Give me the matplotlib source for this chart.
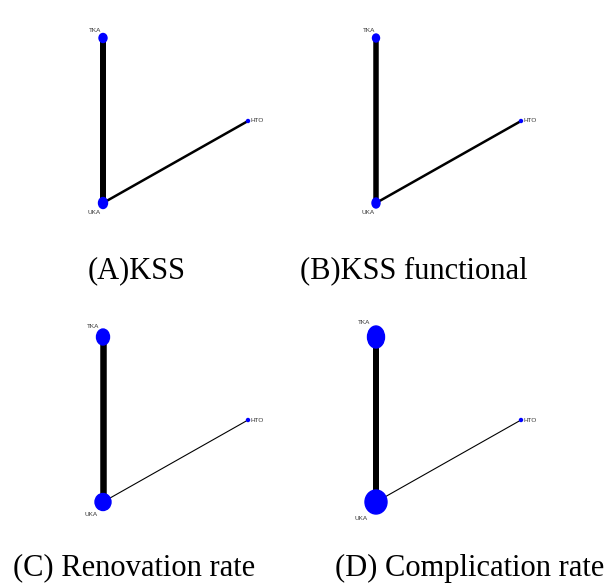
import matplotlib
matplotlib.use("Agg")
import matplotlib.pyplot as plt
from matplotlib.patches import Ellipse

# network: three treatments, two edges
nodes = ["TKA", "UKA", "HTO"]
edges = [("TKA", "UKA"), ("UKA", "HTO")]

panels = ["(A)KSS", "(B)KSS functional", "(C) Renovation rate", "(D) Complication rate"]

# node sizes (width, height) per panel, in pixels
node_w = {
    "(A)KSS": [8, 9, 3],
    "(B)KSS functional": [7, 8, 3],
    "(C) Renovation rate": [13, 16, 3],
    "(D) Complication rate": [17, 22, 3],
}
node_h = {
    "(A)KSS": [9, 11, 3],
    "(B)KSS functional": [8, 10, 3],
    "(C) Renovation rate": [16, 17, 3],
    "(D) Complication rate": [22, 24, 3],
}
# edge widths per panel (TKA-UKA, UKA-HTO), in pixels
edge_w = {
    "(A)KSS": [6, 2.5],
    "(B)KSS functional": [5.5, 2.5],
    "(C) Renovation rate": [6.5, 1.1],
    "(D) Complication rate": [6, 1.1],
}

# layout of the network (relative to TKA), pixels
layout = {"TKA": (0, 0), "UKA": (0, 165), "HTO": (145, 83)}
origins = [(103, 38), (376, 38), (103, 337), (376, 337)]
captions_xy = [(137, 271), (414, 271), (134, 568), (470, 568)]


def label_offset(n, w, h):
    # labels sit just outside the node, depending on its size
    if n == "TKA":
        return -(w / 2 + 3.5), -(h / 2 + 3), "center"
    if n == "UKA":
        return -(w / 2 + 4), h / 2 + 4.5, "center"
    return w / 2 + 1, 0, "left"


W, H = 614, 586
fig = plt.figure(figsize=(W / 100, H / 100), dpi=100)
ax = fig.add_axes([0, 0, 1, 1])
ax.set_xlim(0, W)
ax.set_ylim(H, 0)
ax.axis("off")

px = 0.72  # pixels -> points

for name, (ox, oy), (cx, cy) in zip(panels, origins, captions_xy):
    pos = {n: (ox + layout[n][0], oy + layout[n][1]) for n in nodes}
    for (a, b), lw in zip(edges, edge_w[name]):
        ax.plot([pos[a][0], pos[b][0]], [pos[a][1], pos[b][1]],
                color="black", lw=lw * px, solid_capstyle="butt", zorder=1)
    for i, n in enumerate(nodes):
        x, y = pos[n]
        w, h = node_w[name][i], node_h[name][i]
        ax.add_patch(Ellipse((x, y), w, h, color="#0000ff", zorder=2))
        dx, dy, ha = label_offset(n, w, h)
        ax.text(x + dx, y + dy, n, fontsize=4.6, color="#333333",
                ha=ha, va="center", family="Liberation Sans", zorder=3)
    ax.text(cx, cy, name, fontsize=22, ha="center", va="center",
            family="Liberation Serif")

fig.savefig("out.png", dpi=100)
